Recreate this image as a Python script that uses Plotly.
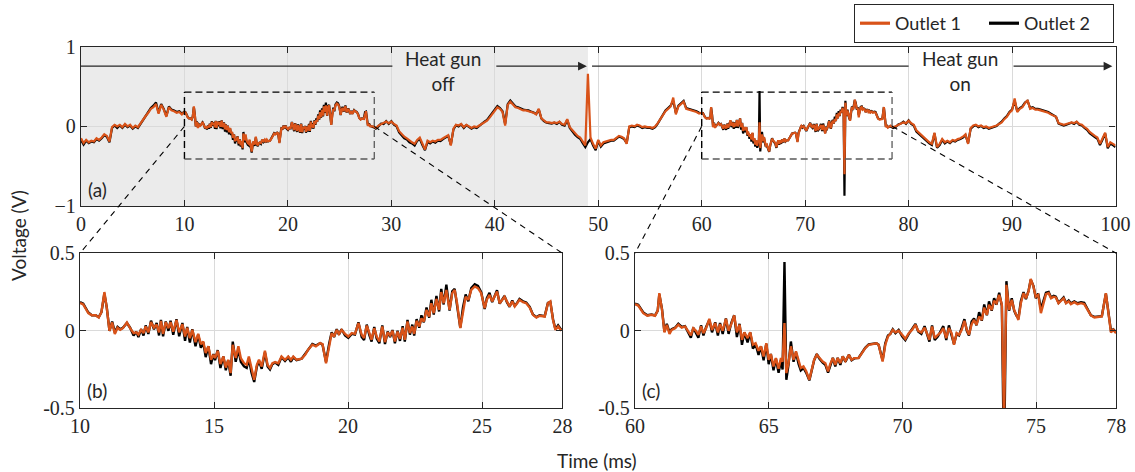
import numpy as np
import plotly.graph_objects as go

# ---------------- data ----------------
# segment 0 - 9.75 ms, 0.25 ms step (top panel only)
segA_t0, segA_dt = 0.0, 0.25
segA_o1 = [-0.15, -0.21, -0.17, -0.2, -0.18, -0.19, -0.15, -0.17, -0.14, -0.1, -0.12, -0.19,
           -0.01, 0.02, 0.0, 0.02, -0.01, 0.03, 0.0, 0.02, -0.02, 0.01, -0.01, 0.04, 0.08, 0.13,
           0.17, 0.22, 0.24, 0.28, 0.16, 0.27, 0.21, 0.12, 0.24, 0.2, 0.19, 0.17, 0.18, 0.15]
segA_o2 = [-0.17, -0.23, -0.18, -0.21, -0.19, -0.2, -0.16, -0.18, -0.15, -0.11, -0.13, -0.2,
           -0.02, 0.01, -0.02, 0.01, -0.02, 0.02, -0.01, 0.01, -0.03, 0.0, -0.02, 0.03, 0.09, 0.14,
           0.18, 0.23, 0.26, 0.3, 0.17, 0.28, 0.22, 0.13, 0.25, 0.21, 0.2, 0.18, 0.19, 0.16]

# zoom (b): 10 - 28 ms
b_t = [10.0, 10.12, 10.31, 10.44, 10.58, 10.7, 10.8, 10.91, 11.0, 11.1, 11.2, 11.3, 11.4, 11.5,
       11.6, 11.75, 11.87, 12.0, 12.1, 12.18, 12.28, 12.37, 12.45, 12.55, 12.65, 12.76, 12.86,
       12.95, 13.02, 13.1, 13.2, 13.3, 13.38, 13.48, 13.6, 13.7, 13.82, 13.92, 14.0, 14.1, 14.19,
       14.31, 14.41, 14.51, 14.6, 14.69, 14.79, 14.89, 14.98, 15.04, 15.14, 15.24, 15.35, 15.44,
       15.53, 15.62, 15.7, 15.81, 15.91, 16.0, 16.12, 16.22, 16.3, 16.4, 16.5, 16.6, 16.68, 16.78,
       16.9, 17.0, 17.09, 17.18, 17.28, 17.4, 17.52, 17.65, 17.77, 17.87, 17.96, 18.08, 18.27,
       18.4, 18.52, 18.67, 18.8, 18.96, 19.05, 19.18, 19.3, 19.39, 19.48, 19.58, 19.66, 19.76,
       19.89, 20.01, 20.14, 20.26, 20.39, 20.51, 20.6, 20.7, 20.8, 20.88, 20.98, 21.07, 21.17,
       21.28, 21.38, 21.48, 21.57, 21.66, 21.75, 21.85, 21.94, 22.04, 22.12, 22.22, 22.31, 22.4,
       22.47, 22.56, 22.66, 22.74, 22.83, 22.93, 23.03, 23.11, 23.2, 23.3, 23.4, 23.48, 23.57,
       23.67, 23.79, 23.89, 23.98, 24.07, 24.19, 24.29, 24.39, 24.49, 24.6, 24.73, 24.85, 24.97,
       25.1, 25.18, 25.28, 25.38, 25.47, 25.56, 25.66, 25.76, 25.84, 25.93, 26.03, 26.13, 26.22,
       26.31, 26.4, 26.53, 26.65, 26.78, 26.9, 27.03, 27.15, 27.34, 27.46, 27.55, 27.65, 27.74,
       27.84, 27.96]
b_o1 = [0.18, 0.17, 0.114, 0.10, 0.10, 0.086, 0.12, 0.25, 0.146, 0.0, 0.054, -0.02, 0.02, 0.006,
        0.017, 0.054, 0.017, -0.015, -0.01, -0.025, 0.006, -0.015, 0.028, -0.01, 0.056, 0.02, 0.04,
        -0.01, 0.064, -0.02, 0.056, 0.017, 0.056, -0.005, 0.07, -0.01, 0.043, -0.037, 0.02, -0.047,
        0.006, -0.073, -0.02, -0.086, -0.069, -0.144, -0.10, -0.187, -0.155, -0.176, -0.129, -0.215,
        -0.166, -0.237, -0.187, -0.273, -0.09, -0.176, -0.10, -0.176, -0.209, -0.22, -0.166, -0.25,
        -0.316, -0.22, -0.187, -0.23, -0.129, -0.22, -0.24, -0.209, -0.202, -0.209, -0.166, -0.187,
        -0.166, -0.187, -0.166, -0.187, -0.18, -0.155, -0.12, -0.09, -0.10, -0.08, -0.086, -0.209,
        -0.09, -0.015, -0.037, 0.006, -0.02, 0.006, -0.02, -0.037, -0.015, -0.02, 0.05, -0.026,
        -0.047, 0.034, -0.015, -0.058, 0.017, -0.037, -0.069, 0.028, -0.073, -0.01, -0.03, 0.0,
        -0.069, -0.005, -0.052, 0.02, -0.058, 0.06, -0.015, 0.028, -0.02, 0.064, 0.028, 0.08, 0.06,
        0.135, 0.092, 0.178, 0.114, 0.206, 0.135, 0.25, 0.178, 0.264, 0.135, 0.243, 0.264, 0.178,
        0.017, 0.135, 0.22, 0.20, 0.264, 0.286, 0.275, 0.243, 0.146, 0.20, 0.232, 0.19, 0.22, 0.254,
        0.178, 0.20, 0.22, 0.19, 0.157, 0.19, 0.157, 0.178, 0.20, 0.185, 0.178, 0.15, 0.103, 0.086,
        0.097, 0.092, 0.178, 0.19, 0.07, 0.006, 0.028, 0.0]
b_o2 = [0.185, 0.175, 0.118, 0.10, 0.10, 0.088, 0.12, 0.24, 0.15, 0.0, 0.06, -0.01, 0.025, 0.01,
        0.02, 0.05, 0.02, -0.03, -0.005, -0.04, 0.01, -0.03, 0.035, -0.02, 0.065, 0.01, 0.05,
        -0.03, 0.07, -0.035, 0.06, 0.0, 0.065, -0.025, 0.075, -0.035, 0.05, -0.065, 0.025, -0.075,
        0.01, -0.1, -0.025, -0.11, -0.075, -0.17, -0.1, -0.215, -0.15, -0.19, -0.125, -0.24,
        -0.165, -0.255, -0.19, -0.29, -0.07, -0.2, -0.12, -0.2, -0.23, -0.24, -0.18, -0.27,
        -0.33, -0.23, -0.195, -0.245, -0.14, -0.23, -0.25, -0.215, -0.205, -0.22, -0.17, -0.195,
        -0.17, -0.2, -0.17, -0.19, -0.18, -0.15, -0.115, -0.085, -0.095, -0.08, -0.09, -0.2,
        -0.08, -0.01, -0.04, 0.01, -0.025, 0.01, -0.03, -0.045, -0.02, -0.025, 0.055, -0.04,
        -0.06, 0.04, -0.03, -0.07, 0.025, -0.05, -0.08, 0.035, -0.085, -0.005, -0.04, 0.005,
        -0.08, 0.0, -0.065, 0.03, -0.07, 0.07, -0.025, 0.04, -0.03, 0.075, 0.02, 0.1, 0.055,
        0.15, 0.085, 0.2, 0.105, 0.225, 0.125, 0.27, 0.17, 0.297, 0.13, 0.255, 0.27, 0.17,
        0.02, 0.15, 0.235, 0.19, 0.275, 0.3, 0.29, 0.25, 0.14, 0.21, 0.245, 0.185, 0.225, 0.262,
        0.175, 0.205, 0.225, 0.185, 0.155, 0.195, 0.16, 0.18, 0.205, 0.19, 0.182, 0.155, 0.105,
        0.088, 0.1, 0.095, 0.18, 0.185, 0.075, 0.01, 0.035, 0.005]

# segment 28.25 - 59.75 ms, 0.25 ms step (top panel only)
segC_t0, segC_dt = 28.25, 0.25
segC_o1 = [0.0, -0.02, 0.01,
           0.03, 0.04, 0.06, 0.04, 0.06, 0.03, 0.01, -0.06, -0.1, -0.13, -0.15, -0.18,
           -0.2, -0.22, -0.17, -0.14, -0.22, -0.29, -0.18, -0.2, -0.18, -0.19, -0.17, -0.17,
           -0.15, -0.13, -0.11, -0.24, -0.03, 0.02, 0.01, 0.03, -0.01, 0.02, 0.0, -0.02,
           0.0, -0.01, 0.01, 0.03, 0.05, 0.07, 0.11, 0.15, 0.19, 0.24, 0.22, 0.18,
           0.01, 0.27, 0.31, 0.27, 0.24, 0.23, 0.21, 0.2, 0.2, 0.19, 0.18, 0.17,
           0.15, 0.22, 0.1, 0.07, 0.05, 0.05, 0.04, 0.05, 0.04, 0.06, 0.03, 0.02,
           0.09, -0.01, -0.05, -0.09, -0.12, -0.14, -0.19, -0.24, 0.66, -0.14, -0.22, -0.28,
           -0.17, -0.24, -0.2, -0.19, -0.18, -0.17, -0.17, -0.15, -0.12, -0.13, -0.15, -0.22,
           0.0, 0.01, 0.0, 0.02, 0.01, -0.01, 0.0, -0.01, -0.01, -0.02, 0.0, 0.04,
           0.09, 0.14, 0.19, 0.22, 0.25, 0.36, 0.15, 0.25, 0.28, 0.31, 0.22, 0.21,
           0.2, 0.19, 0.18, 0.16]
segC_o2 = [-0.01, -0.03, 0.0,
           0.035, 0.03, 0.065, 0.03, 0.065, 0.02, 0.0, -0.075, -0.115, -0.15, -0.165, -0.2,
           -0.215, -0.24, -0.18, -0.16, -0.235, -0.3, -0.195, -0.215, -0.19, -0.205, -0.18, -0.185,
           -0.16, -0.145, -0.12, -0.23, -0.04, 0.015, 0.0, 0.025, -0.02, 0.015, -0.01, -0.03,
           -0.01, -0.02, 0.005, 0.035, 0.06, 0.08, 0.125, 0.165, 0.2, 0.255, 0.23, 0.19,
           0.03, 0.28, 0.325, 0.28, 0.25, 0.24, 0.22, 0.21, 0.205, 0.2, 0.185, 0.175,
           0.155, 0.21, 0.1, 0.065, 0.045, 0.04, 0.035, 0.045, 0.03, 0.055, 0.02, 0.01,
           0.08, -0.02, -0.065, -0.105, -0.135, -0.155, -0.21, -0.26, -0.2, -0.16, -0.24, -0.3,
           -0.18, -0.255, -0.215, -0.2, -0.19, -0.18, -0.18, -0.16, -0.13, -0.14, -0.16, -0.21,
           -0.01, 0.0, -0.01, 0.01, 0.0, -0.02, -0.01, -0.02, -0.02, -0.03, -0.01, 0.035,
           0.095, 0.15, 0.2, 0.23, 0.26, 0.32, 0.17, 0.26, 0.29, 0.32, 0.23, 0.22,
           0.21, 0.2, 0.19, 0.17]

# zoom (c): 60 - 78 ms
c_t = [60.0, 60.12, 60.31, 60.46, 60.62, 60.75, 60.85, 60.91, 61.01, 61.1, 61.19, 61.29, 61.37,
       61.5, 61.62, 61.75, 61.87, 62.0, 62.09, 62.18, 62.28, 62.37, 62.47, 62.56, 62.66, 62.78,
       62.88, 63.0, 63.1, 63.18, 63.28, 63.4, 63.5, 63.6, 63.71, 63.81, 63.91, 64.0, 64.09, 64.21,
       64.31, 64.41, 64.51, 64.62, 64.71, 64.81, 64.91, 65.0, 65.08, 65.18, 65.27, 65.37, 65.46,
       65.52, 65.59, 65.66, 65.74, 65.83, 65.93, 66.02, 66.12, 66.2, 66.3, 66.4, 66.52, 66.62,
       66.7, 66.8, 66.9, 67.02, 67.12, 67.22, 67.3, 67.4, 67.49, 67.58, 67.68, 67.77, 67.87, 68.0,
       68.1, 68.2, 68.36, 68.49, 68.61, 68.74, 68.86, 69.03, 69.11, 69.26, 69.36, 69.46, 69.55,
       69.64, 69.74, 69.86, 69.99, 70.11, 70.24, 70.36, 70.49, 70.59, 70.71, 70.83, 70.93, 71.01,
       71.11, 71.21, 71.33, 71.43, 71.53, 71.64, 71.74, 71.84, 71.93, 72.03, 72.12, 72.22, 72.32,
       72.41, 72.49, 72.59, 72.68, 72.77, 72.87, 72.97, 73.06, 73.16, 73.24, 73.34, 73.43, 73.52,
       73.62, 73.72, 73.8, 73.89, 73.99, 74.09, 74.18, 74.26, 74.34, 74.43, 74.53, 74.62, 74.72,
       74.8, 74.9, 74.99, 75.08, 75.18, 75.27, 75.37, 75.47, 75.56, 75.66, 75.74, 75.84, 75.93,
       76.03, 76.12, 76.22, 76.3, 76.43, 76.55, 76.68, 76.8, 76.93, 77.05, 77.18, 77.34, 77.46,
       77.61, 77.71, 77.8, 77.89, 77.99]
c_o1 = [0.172, 0.163, 0.114, 0.097, 0.103, 0.097, 0.13, 0.243, 0.135, -0.01, 0.039, -0.02, 0.006,
        0.017, 0.039, 0.02, 0.028, -0.01, -0.03, 0.017, 0.0, -0.026, 0.028, -0.015, 0.017, 0.077,
        0.006, 0.05, -0.01, 0.043, 0.0, 0.077, 0.0, 0.043, 0.099, -0.01, 0.039, -0.058, -0.01,
        -0.047, -0.01, -0.09, -0.08, -0.129, -0.10, -0.166, -0.08, -0.187, -0.15, -0.23, -0.176,
        -0.245, -0.176, -0.2, 0.05, -0.273, -0.209, -0.10, -0.187, -0.133, -0.198, -0.24, -0.23,
        -0.26, -0.316, -0.24, -0.187, -0.155, -0.176, -0.198, -0.209, -0.262, -0.215, -0.176,
        -0.22, -0.176, -0.209, -0.166, -0.194, -0.155, -0.187, -0.176, -0.176, -0.144, -0.112,
        -0.09, -0.086, -0.08, -0.09, -0.198, -0.09, -0.037, -0.02, 0.006, -0.01, 0.0, -0.026,
        -0.052, -0.015, 0.006, 0.039, 0.0, -0.01, 0.02, -0.02, -0.058, 0.028, -0.047, -0.026,
        -0.01, 0.017, -0.047, 0.017, -0.015, -0.09, -0.015, -0.026, 0.006, 0.064, 0.006, -0.026,
        0.043, 0.07, 0.039, 0.092, 0.07, 0.15, 0.103, 0.168, 0.135, 0.194, 0.178, 0.232, 0.168,
        -0.60, 0.297, 0.135, 0.2, 0.135, 0.103, 0.07, 0.178, 0.243, 0.21, 0.254, 0.335, 0.286,
        0.22, 0.232, 0.114, 0.178, 0.236, 0.243, 0.21, 0.22, 0.215, 0.178, 0.194, 0.21, 0.178,
        0.19, 0.172, 0.185, 0.172, 0.178, 0.172, 0.135, 0.099, 0.086, 0.092, 0.092, 0.243, 0.103,
        -0.01, 0.006, -0.015]
c_o2 = [0.175, 0.168, 0.118, 0.1, 0.105, 0.1, 0.13, 0.235, 0.14, -0.005, 0.045, -0.01, 0.01,
        0.02, 0.045, 0.025, 0.03, -0.02, -0.045, 0.02, -0.01, -0.045, 0.035, -0.03, 0.025, 0.07,
        -0.01, 0.055, -0.03, 0.05, -0.02, 0.08, -0.02, 0.05, 0.1, -0.04, 0.045, -0.09, -0.01,
        -0.075, -0.01, -0.115, -0.085, -0.155, -0.1, -0.19, -0.085, -0.215, -0.15, -0.255, -0.18,
        -0.27, -0.19, -0.25, 0.443, -0.316, -0.22, -0.069, -0.2, -0.14, -0.215, -0.255, -0.24,
        -0.27, -0.32, -0.245, -0.19, -0.15, -0.18, -0.205, -0.22, -0.27, -0.22, -0.175,
        -0.23, -0.175, -0.22, -0.165, -0.2, -0.155, -0.19, -0.178, -0.175, -0.14, -0.11,
        -0.088, -0.085, -0.08, -0.09, -0.19, -0.08, -0.03, -0.02, 0.01, -0.015, 0.005, -0.035,
        -0.06, -0.02, 0.01, 0.045, -0.005, -0.02, 0.03, -0.035, -0.07, 0.035, -0.06, -0.035,
        -0.005, 0.03, -0.06, 0.035, -0.03, -0.085, -0.02, -0.03, 0.02, 0.075, 0.0, -0.03,
        0.06, 0.08, 0.035, 0.12, 0.065, 0.17, 0.1, 0.19, 0.13, 0.21, 0.17, 0.245, 0.16,
        -0.87, 0.32, 0.13, 0.21, 0.13, 0.1, 0.08, 0.19, 0.25, 0.205, 0.26, 0.33, 0.29,
        0.21, 0.24, 0.14, 0.185, 0.245, 0.25, 0.215, 0.225, 0.22, 0.18, 0.2, 0.215, 0.18,
        0.195, 0.178, 0.19, 0.178, 0.185, 0.18, 0.14, 0.1, 0.09, 0.094, 0.095, 0.24, 0.11,
        0.0, 0.01, -0.01]

# segment 78.25 - 100 ms, 0.25 ms step (top panel only)
segE_t0, segE_dt = 78.25, 0.25
segE_o1 = [0.01, -0.01, 0.0,
           0.02, 0.04, 0.05, 0.04, 0.07, 0.04, 0.02, -0.05, -0.08, -0.12, -0.14, -0.18,
           -0.2, -0.22, -0.08, -0.26, -0.22, -0.16, -0.2, -0.18, -0.2, -0.17, -0.18, -0.16,
           -0.15, -0.13, -0.1, -0.22, -0.02, 0.01, 0.02, 0.0, 0.01, -0.01, 0.0, -0.02,
           -0.01, 0.0, 0.01, 0.03, 0.05, 0.09, 0.12, 0.17, 0.2, 0.35, 0.18, 0.22,
           0.24, 0.29, 0.33, 0.22, 0.23, 0.21, 0.21, 0.2, 0.19, 0.18, 0.17, 0.15,
           0.13, 0.12, 0.04, 0.03, 0.02, 0.03, 0.04, 0.05, 0.04, 0.06, 0.03, 0.02,
           -0.01, -0.03, -0.07, -0.1, -0.12, -0.14, -0.22, -0.15, -0.08, -0.26, -0.2, -0.22,
           -0.24]
segE_o2 = [0.0, -0.02, -0.01,
           0.025, 0.035, 0.06, 0.03, 0.075, 0.03, 0.01, -0.065, -0.095, -0.135, -0.155, -0.195,
           -0.215, -0.235, -0.09, -0.27, -0.235, -0.17, -0.215, -0.19, -0.21, -0.18, -0.19, -0.17,
           -0.16, -0.14, -0.11, -0.21, -0.03, 0.0, 0.015, -0.01, 0.005, -0.02, -0.01, -0.03,
           -0.02, -0.01, 0.005, 0.035, 0.06, 0.1, 0.13, 0.18, 0.21, 0.32, 0.19, 0.23,
           0.25, 0.3, 0.32, 0.23, 0.24, 0.22, 0.22, 0.21, 0.2, 0.19, 0.18, 0.16,
           0.14, 0.12, 0.035, 0.02, 0.01, 0.02, 0.03, 0.045, 0.03, 0.055, 0.02, 0.01,
           -0.02, -0.045, -0.085, -0.115, -0.135, -0.155, -0.235, -0.165, -0.09, -0.275, -0.215, -0.235,
           -0.26]

top_xticks = list(range(0, 101, 10))
b_xticks = [10, 15, 20, 25, 28]
c_xticks = [60, 65, 70, 75, 78]
top_yticks = [-1, 0, 1]
zoom_yticks = [-0.5, 0, 0.5]
zoom_yticktext = ["-0.5", "0", "0.5"]

# ---------------- assemble ----------------
def seg(t0, dt, vals):
    return list(np.round(t0 + dt * np.arange(len(vals)), 3))

top_t = seg(segA_t0, segA_dt, segA_o1) + b_t + seg(segC_t0, segC_dt, segC_o1) + c_t + seg(segE_t0, segE_dt, segE_o1)
top_o1 = segA_o1 + b_o1 + segC_o1 + c_o1 + segE_o1
top_t2 = seg(segA_t0, segA_dt, segA_o2) + b_t + seg(segC_t0, segC_dt, segC_o2) + c_t + seg(segE_t0, segE_dt, segE_o2)
top_o2 = segA_o2 + b_o2 + segC_o2 + c_o2 + segE_o2

ORANGE = "#D95319"
BLACK = "#000000"
FRAME = "#262626"
W, H = 1135, 472

TX = [81 / W, 1115.5 / W]
TY = [1 - 206 / H, 1 - 46.7 / H]
BX = [80 / W, 562.4 / W]
CX = [635 / W, 1116.3 / W]
ZY = [1 - 408.3 / H, 1 - 253.3 / H]

fig = go.Figure()
# black first (under orange)
fig.add_trace(go.Scatter(x=top_t2, y=top_o2, mode="lines", line=dict(color=BLACK, width=2.2),
                         showlegend=False, xaxis="x", yaxis="y"))
fig.add_trace(go.Scatter(x=top_t, y=top_o1, mode="lines", line=dict(color=ORANGE, width=2.2),
                         showlegend=False, xaxis="x", yaxis="y"))
fig.add_trace(go.Scatter(x=b_t, y=b_o2, mode="lines", line=dict(color=BLACK, width=2.4),
                         showlegend=False, xaxis="x2", yaxis="y2"))
fig.add_trace(go.Scatter(x=b_t, y=b_o1, mode="lines", line=dict(color=ORANGE, width=2.4),
                         showlegend=False, xaxis="x2", yaxis="y2"))
fig.add_trace(go.Scatter(x=c_t, y=c_o2, mode="lines", line=dict(color=BLACK, width=2.4),
                         showlegend=False, xaxis="x3", yaxis="y3"))
fig.add_trace(go.Scatter(x=c_t, y=c_o1, mode="lines", line=dict(color=ORANGE, width=2.4),
                         showlegend=False, xaxis="x3", yaxis="y3"))
# legend entries (thicker sample lines)
fig.add_trace(go.Scatter(x=[None], y=[None], mode="lines", line=dict(color=ORANGE, width=3.2),
                         name="Outlet 1", xaxis="x", yaxis="y"))
fig.add_trace(go.Scatter(x=[None], y=[None], mode="lines", line=dict(color=BLACK, width=3.2),
                         name="Outlet 2", xaxis="x", yaxis="y"))

tickfont = dict(family="Liberation Serif", size=20, color=FRAME)
axcommon = dict(showline=True, linecolor=FRAME, linewidth=1.3, mirror="ticks", ticks="inside",
                ticklen=6, tickwidth=1.3, tickcolor=FRAME, showgrid=True, gridcolor="#dadada",
                gridwidth=1, zeroline=False, tickfont=tickfont, fixedrange=True, automargin=False)

fig.update_layout(
    width=W, height=H, margin=dict(l=0, r=0, t=0, b=0, autoexpand=False),
    paper_bgcolor="white", plot_bgcolor="white",
    xaxis=dict(axcommon, domain=TX, range=[0, 100], tickvals=top_xticks, anchor="y"),
    yaxis=dict(axcommon, domain=TY, range=[-1, 1], tickvals=top_yticks, anchor="x"),
    xaxis2=dict(axcommon, domain=BX, range=[10, 28], tickvals=b_xticks, anchor="y2"),
    yaxis2=dict(axcommon, domain=ZY, range=[-0.5, 0.5], tickvals=zoom_yticks,
                ticktext=zoom_yticktext, anchor="x2"),
    xaxis3=dict(axcommon, domain=CX, range=[60, 78], tickvals=c_xticks, anchor="y3"),
    yaxis3=dict(axcommon, domain=ZY, range=[-0.5, 0.5], tickvals=zoom_yticks,
                ticktext=zoom_yticktext, anchor="x3"),
    legend=dict(orientation="h", x=1114 / W, xanchor="right", y=1 - 4 / H, yanchor="top",
                bordercolor=FRAME, borderwidth=1, bgcolor="white", entrywidth=84,
                font=dict(family="Lato", size=18, color=FRAME), tracegroupgap=0),
    showlegend=True,
)

shapes = []
# shaded "heat gun off" region
shapes.append(dict(type="rect", xref="x", yref="y", x0=0, x1=49, y0=-1, y1=1,
                   fillcolor="#ebebeb", line=dict(width=0), layer="below"))
# arrow line pieces (gaps where the text sits)
ARROW_Y = 0.756
shapes.append(dict(type="line", xref="x", yref="y", x0=0, x1=30.1, y0=ARROW_Y, y1=ARROW_Y,
                   line=dict(color=FRAME, width=1.1)))
shapes.append(dict(type="line", xref="x", yref="y", x0=49.4, x1=80.0, y0=ARROW_Y, y1=ARROW_Y,
                   line=dict(color=FRAME, width=1.1)))
# dashed zoom rectangles
DASH = "7px,4px"
for (xa, xb) in [(10, 28.35), (60, 78.4)]:
    ya, yb = -0.41, 0.43
    shapes.append(dict(type="line", xref="x", yref="y", x0=xa, x1=xb, y0=yb, y1=yb,
                       line=dict(color=BLACK, width=1.4, dash=DASH)))
    shapes.append(dict(type="line", xref="x", yref="y", x0=xa, x1=xa, y0=ya, y1=yb,
                       line=dict(color=BLACK, width=1.4, dash=DASH)))
    shapes.append(dict(type="line", xref="x", yref="y", x0=xa, x1=xb, y0=ya, y1=ya,
                       line=dict(color="#5a5a5a", width=1.3, dash=DASH)))
    shapes.append(dict(type="line", xref="x", yref="y", x0=xb, x1=xb, y0=ya, y1=yb,
                       line=dict(color="#5a5a5a", width=1.3, dash=DASH)))


def top_to_paper(t, v):
    return (TX[0] + t / 100 * (TX[1] - TX[0]), TY[0] + (v + 1) / 2 * (TY[1] - TY[0]))


for (t, v, px, py) in [(10, 0, BX[0], ZY[1]), (28.35, 0, BX[1], ZY[1]),
                       (60, 0, CX[0], ZY[1]), (78.4, 0, CX[1], ZY[1])]:
    sx, sy = top_to_paper(t, v)
    shapes.append(dict(type="line", xref="paper", yref="paper", x0=sx, y0=sy, x1=px, y1=py,
                       line=dict(color=BLACK, width=1.1, dash="6px,5px")))
fig.update_layout(shapes=shapes)

lab = dict(family="Lato", size=19, color=FRAME)
ann = []
# arrow heads
for (tail, head) in [(40.0, 48.9), (90.0, 99.7)]:
    ann.append(dict(x=head, y=ARROW_Y, ax=tail, ay=ARROW_Y, xref="x", yref="y", axref="x", ayref="y",
                    text="", showarrow=True, arrowhead=2, arrowsize=1.6, arrowwidth=1.1,
                    arrowcolor=FRAME, standoff=0))
ann.append(dict(x=35.0, y=0.70, xref="x", yref="y", text="Heat gun<br>off", showarrow=False,
                font=lab, xanchor="center", yanchor="middle"))
ann.append(dict(x=85.0, y=0.70, xref="x", yref="y", text="Heat gun<br>on", showarrow=False,
                font=lab, xanchor="center", yanchor="middle"))
ann.append(dict(x=0.005, y=0.02, xref="x domain", yref="y domain", text="(a)", showarrow=False,
                font=lab, xanchor="left", yanchor="bottom"))
ann.append(dict(x=0.01, y=0.03, xref="x2 domain", yref="y2 domain", text="(b)", showarrow=False,
                font=lab, xanchor="left", yanchor="bottom"))
ann.append(dict(x=0.01, y=0.03, xref="x3 domain", yref="y3 domain", text="(c)", showarrow=False,
                font=lab, xanchor="left", yanchor="bottom"))
ann.append(dict(x=18 / W, y=1 - 236 / H, xref="paper", yref="paper", text="Voltage (V)",
                showarrow=False, textangle=-90, font=lab, xanchor="center", yanchor="middle"))
ann.append(dict(x=597 / W, y=1 - 460 / H, xref="paper", yref="paper", text="Time (ms)",
                showarrow=False, font=lab, xanchor="center", yanchor="middle"))
fig.update_layout(annotations=ann)

fig.write_html("out.html")
